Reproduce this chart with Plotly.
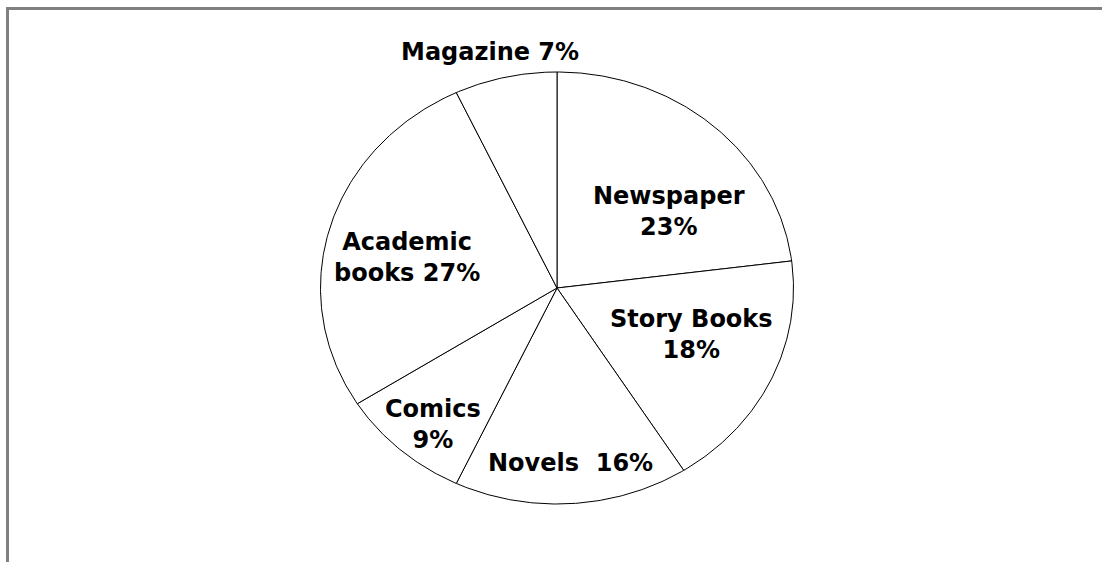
import numpy as np
import plotly.graph_objects as go

# Data (clockwise from 12 o'clock)
categories = ["Newspaper", "Story Books", "Novels", "Comics", "Academic books", "Magazine"]
values = [23, 18, 16, 9, 27, 7]
label_texts = ["Newspaper<br>23%", "Story Books<br>18%", "Novels  16%",
               "Comics<br>9%", "Academic<br>books 27%", "Magazine 7%"]

W, H = 1102, 562
CX, CY = 557, 288          # pie centre in pixels
RX, RY = 236.5, 216.0      # horizontal / vertical radius in pixels (stretched pie)

# label centre positions in pixels (layout only)
label_pos = {
    "Newspaper": (669, 211),
    "Story Books": (691, 334),
    "Novels": (570, 463),
    "Comics": (433, 424),
    "Academic books": (407, 257),
    "Magazine": (490, 52),
}

fig = go.Figure()
total = float(sum(values))
cum = 0.0
for cat, v in zip(categories, values):
    a0 = np.pi / 2 - 2 * np.pi * cum / total
    a1 = np.pi / 2 - 2 * np.pi * (cum + v) / total
    t = np.linspace(a0, a1, max(int(v * 6), 12))
    xs = np.concatenate([[0], np.cos(t), [0]])
    ys = np.concatenate([[0], np.sin(t), [0]])
    fig.add_trace(go.Scatter(x=xs, y=ys, mode="lines", fill="toself",
                             fillcolor="white", line=dict(color="black", width=1),
                             name=cat, hoverinfo="name", showlegend=False))
    cum += v

for cat, txt in zip(categories, label_texts):
    px, py = label_pos[cat]
    fig.add_annotation(x=px / W, y=1 - py / H, xref="paper", yref="paper",
                       text=txt, showarrow=False, align="center",
                       xanchor="center", yanchor="middle",
                       font=dict(family="DejaVu Sans", size=24, color="black"))

# frame lines (top and left)
fig.add_shape(type="line", xref="paper", yref="paper",
              x0=6 / W, x1=1.0, y0=1 - 8.5 / H, y1=1 - 8.5 / H,
              line=dict(color="#808080", width=3))
fig.add_shape(type="line", xref="paper", yref="paper",
              x0=7.5 / W, x1=7.5 / W, y0=1 - 7 / H, y1=0,
              line=dict(color="#808080", width=3))

fig.update_layout(
    width=W, height=H, autosize=False,
    margin=dict(l=0, r=0, t=0, b=0),
    paper_bgcolor="white", plot_bgcolor="white",
    xaxis=dict(range=[-CX / RX, (W - CX) / RX], visible=False, fixedrange=True),
    yaxis=dict(range=[-(H - CY) / RY, CY / RY], visible=False, fixedrange=True),
    showlegend=False,
)
fig.update_annotations(font=dict(family="DejaVu Sans", size=24, color="black"))
for a in fig.layout.annotations:
    a.text = "<b>" + a.text.replace("<br>", "</b><br><b>") + "</b>"

fig.write_html("out.html")
